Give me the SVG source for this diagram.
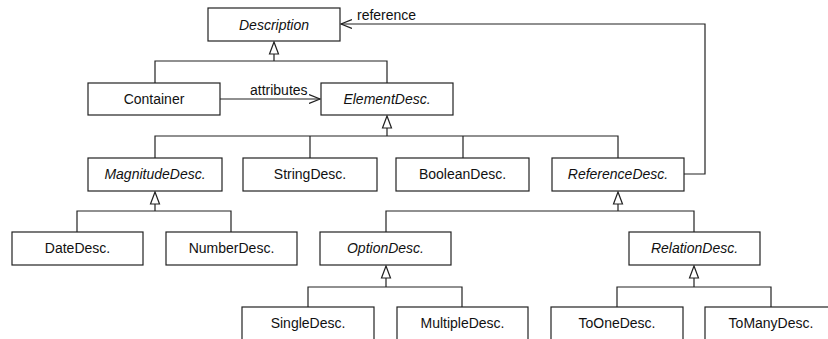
<svg xmlns="http://www.w3.org/2000/svg" width="828" height="339" viewBox="0 0 828 339">
<style>
.box{fill:#fff;stroke:#222;stroke-width:1.2}
.lbl{font-family:"Liberation Sans",Arial,sans-serif;font-size:14px;fill:#111;text-anchor:middle}
.it{font-style:italic}
.edge{fill:none;stroke:#222;stroke-width:1.2}
.tri{fill:#fff;stroke:#222;stroke-width:1.2}
.elbl{font-family:"Liberation Sans",Arial,sans-serif;font-size:14px;fill:#111}
</style>
<defs>
<marker id="open" viewBox="0 0 12 10" refX="11" refY="5" markerWidth="12" markerHeight="10" markerUnits="userSpaceOnUse" orient="auto">
<path d="M0,0.5 L11,5 L0,9.5" fill="none" stroke="#222" stroke-width="1.2"/>
</marker>
</defs>
<rect width="828" height="339" fill="#fff"/>
<g id="connectors">
<path class="edge" d="M274,54 V61 M155,83 V61 H387 V83"/>
<polygon class="tri" points="274,42 269.5,54 278.5,54"/>
<path class="edge" d="M387,128 V136 M155,158 V136 H618 V158 M310,136 V158 M463,136 V158"/>
<polygon class="tri" points="387,116 382.5,128 391.5,128"/>
<path class="edge" d="M155,204 V211 M77,232 V211 H231 V232"/>
<polygon class="tri" points="155,192 150.5,204 159.5,204"/>
<path class="edge" d="M618,204 V211 M386,232 V211 H694 V232"/>
<polygon class="tri" points="618,192 613.5,204 622.5,204"/>
<path class="edge" d="M386,278 V287 M308,307 V287 H462 V307"/>
<polygon class="tri" points="386,266 381.5,278 390.5,278"/>
<path class="edge" d="M694,278 V287 M617,307 V287 H771 V307"/>
<polygon class="tri" points="694,266 689.5,278 698.5,278"/>
<path class="edge" d="M220,99 H320" marker-end="url(#open)"/>
<text class="elbl" x="250" y="95">attributes</text>
<path class="edge" d="M684,174 H705 V24 H341" marker-end="url(#open)"/>
<text class="elbl" x="357" y="19.5">reference</text>
</g>
<g id="Description"><rect class="box" x="208" y="8" width="132" height="33"/><text class="lbl it" x="274" y="29.5">Description</text></g>
<g id="Container"><rect class="box" x="88" y="83" width="132" height="32"/><text class="lbl" x="154" y="104">Container</text></g>
<g id="ElementDesc"><rect class="box" x="321" y="83" width="132" height="32"/><text class="lbl it" x="387" y="104">ElementDesc.</text></g>
<g id="MagnitudeDesc"><rect class="box" x="88" y="158" width="134" height="33"/><text class="lbl it" x="155" y="179">MagnitudeDesc.</text></g>
<g id="StringDesc"><rect class="box" x="243" y="158" width="134" height="33"/><text class="lbl" x="310" y="179">StringDesc.</text></g>
<g id="BooleanDesc"><rect class="box" x="396" y="158" width="133" height="33"/><text class="lbl" x="462.5" y="179">BooleanDesc.</text></g>
<g id="ReferenceDesc"><rect class="box" x="552" y="158" width="132" height="33"/><text class="lbl it" x="618" y="179">ReferenceDesc.</text></g>
<g id="DateDesc"><rect class="box" x="12" y="232" width="131" height="33"/><text class="lbl" x="77.5" y="253">DateDesc.</text></g>
<g id="NumberDesc"><rect class="box" x="166" y="232" width="131" height="33"/><text class="lbl" x="231.5" y="253">NumberDesc.</text></g>
<g id="OptionDesc"><rect class="box" x="320" y="232" width="131" height="33"/><text class="lbl it" x="385.5" y="253">OptionDesc.</text></g>
<g id="RelationDesc"><rect class="box" x="629" y="232" width="131" height="33"/><text class="lbl it" x="694.5" y="253">RelationDesc.</text></g>
<g id="SingleDesc"><rect class="box" x="242" y="307" width="132" height="40"/><text class="lbl" x="308" y="328">SingleDesc.</text></g>
<g id="MultipleDesc"><rect class="box" x="397" y="307" width="131" height="40"/><text class="lbl" x="462.5" y="328">MultipleDesc.</text></g>
<g id="ToOneDesc"><rect class="box" x="551" y="307" width="132" height="40"/><text class="lbl" x="617" y="328">ToOneDesc.</text></g>
<g id="ToManyDesc"><rect class="box" x="705" y="307" width="132" height="40"/><text class="lbl" x="771" y="328">ToManyDesc.</text></g>
</svg>
